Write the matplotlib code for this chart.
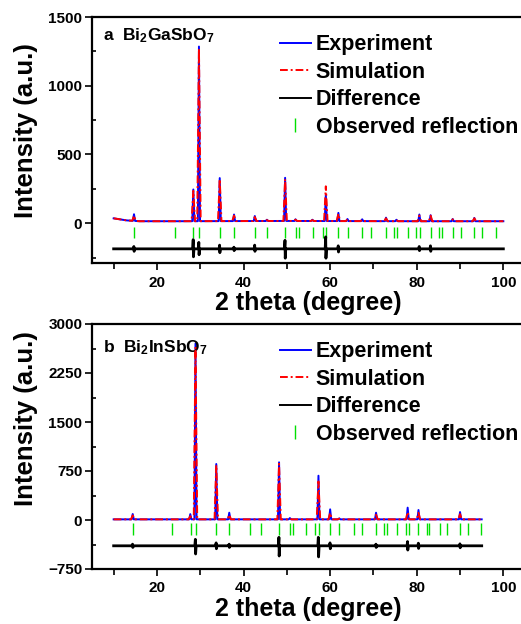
import numpy as np
import matplotlib
matplotlib.use("Agg")
import matplotlib.pyplot as plt
from matplotlib.lines import Line2D
from matplotlib.ticker import MultipleLocator

plt.rcParams['font.family'] = ['Liberation Sans', 'DejaVu Sans']
plt.rcParams['font.weight'] = 'bold'
plt.rcParams['mathtext.fontset'] = 'custom'
plt.rcParams['mathtext.rm'] = 'Liberation Sans:bold'
plt.rcParams['mathtext.bf'] = 'Liberation Sans:bold'
plt.rcParams['mathtext.it'] = 'Liberation Sans:bold'
plt.rcParams['mathtext.default'] = 'bf'

# ---------------- panel a: Bi2GaSbO7 ----------------
a_bg_x = [10, 11, 13, 16, 25, 50, 80, 100]
a_bg_y = [35, 30, 20, 14, 14, 16, 14, 14]
a_peak_pos = [14.7, 28.4, 29.7, 34.5, 37.8, 42.6, 45.4, 49.6, 52.0, 55.9,
              59.0, 61.9, 64.0, 67.4, 72.9, 75.3, 80.6, 83.2, 88.3, 93.3]
a_exp_h = [65, 245, 1285, 328, 63, 52, 25, 330, 28, 25,
           205, 75, 30, 28, 40, 25, 63, 58, 30, 38]
a_sim_h = [55, 235, 1270, 320, 55, 45, 22, 320, 25, 22,
           268, 68, 28, 25, 35, 22, 55, 55, 28, 35]
a_diff_base = -187
a_diff_pos = [14.7, 28.4, 29.7, 34.5, 37.8, 42.6, 49.6, 59.0, 61.9, 80.6, 83.2]
a_diff_hi = [-170, -120, -140, -160, -175, -160, -125, -100, -165, -170, -165]
a_diff_lo = [-205, -245, -230, -215, -200, -205, -255, -255, -210, -200, -205]
a_refl = [14.68, 24.24, 28.41, 29.72, 34.58, 37.82, 42.60, 45.38, 49.62, 52.02,
          52.86, 55.95, 58.26, 59.04, 61.89, 64.05, 67.44, 69.45, 72.84, 74.77,
          75.39, 78.09, 79.94, 80.64, 83.18, 85.03, 85.73, 88.27, 90.13, 93.21,
          95.14, 98.38]
a_refl_span = (-105, -25)

# ---------------- panel b: Bi2InSbO7 ----------------
b_bg_x = [10, 95]
b_bg_y = [10, 10]
b_peak_pos = [14.4, 27.7, 28.9, 33.7, 36.7, 48.2, 50.7, 57.3, 60.0, 62.1,
              70.6, 77.9, 80.4, 90.0]
b_exp_h = [92, 90, 2700, 857, 112, 883, 30, 678, 163, 25, 112, 189, 153, 122]
b_sim_h = [70, 60, 2650, 840, 80, 860, 25, 590, 110, 20, 80, 120, 110, 90]
b_diff_base = -395
b_diff_pos = [14.4, 28.9, 33.7, 36.7, 48.2, 57.3, 60.0, 70.6, 77.9, 80.4, 90.0]
b_diff_hi = [-370, -296, -350, -370, -265, -265, -350, -370, -330, -355, -365]
b_diff_lo = [-420, -520, -440, -420, -551, -565, -440, -420, -460, -435, -425]
b_refl = [14.45, 23.55, 27.79, 29.10, 33.73, 36.74, 41.52, 44.07, 48.24, 50.70,
          51.40, 54.33, 56.57, 57.34, 60.04, 62.12, 65.44, 67.37, 70.61, 72.46,
          73.15, 75.54, 77.47, 78.16, 80.40, 82.33, 82.87, 85.27, 87.04, 90.05,
          91.90, 94.83]
b_refl_span = (-235, -51)


def peak_curve(bg_x, bg_y, pos, hts, hw):
    """Piecewise-linear pattern: background plus triangular peaks."""
    pos = np.asarray(pos, float)
    xs = np.unique(np.concatenate([bg_x, pos - hw, pos, pos + hw]))
    xs = xs[(xs >= bg_x[0]) & (xs <= bg_x[-1])]
    ys = np.interp(xs, bg_x, bg_y)
    for p, h in zip(pos, hts):
        base = np.interp(p, bg_x, bg_y)
        ys = ys + np.clip(1 - np.abs(xs - p) / hw, 0, None) * (h - base)
    return xs, ys


def diff_curve(x0, x1, base, pos, hi, lo):
    xs = [x0]
    ys = [base]
    for p, h, l in zip(pos, hi, lo):
        xs += [p - 0.15, p - 0.03, p + 0.03, p + 0.15]
        ys += [base, h, l, base]
    xs.append(x1)
    ys.append(base)
    return xs, ys


fig = plt.figure(figsize=(5.21, 6.24), dpi=100)
W, H = 521, 624
ax1 = fig.add_axes([92 / W, 1 - 263 / H, 433 / W, 246 / H])
ax2 = fig.add_axes([92 / W, 1 - 569 / H, 433 / W, 245 / H])

blue = '#0000ff'
red = '#ff0000'
green = '#00e000'
dashdot = (0, (4, 1.5, 1, 1.5))

panels = [
    (ax1, a_bg_x, a_bg_y, a_peak_pos, a_exp_h, a_sim_h, a_diff_base, a_diff_pos,
     a_diff_hi, a_diff_lo, a_refl, a_refl_span, (-290, 1500), 500, 250,
     r'a  Bi$_{2}$GaSbO$_{7}$', 0.905, 0.537),
    (ax2, b_bg_x, b_bg_y, b_peak_pos, b_exp_h, b_sim_h, b_diff_base, b_diff_pos,
     b_diff_hi, b_diff_lo, b_refl, b_refl_span, (-750, 3000), 750, 375,
     r'b  Bi$_{2}$InSbO$_{7}$', 0.885, 0.612),
]

for (ax, bgx, bgy, ppos, eh, sh, dbase, dpos, dhi, dlo, refl, rspan, ylim,
     ymaj, ymin, title, ty, ylab_y) in panels:
    ex, ey = peak_curve(bgx, bgy, ppos, eh, 0.25)
    sx, sy = peak_curve(bgx, bgy, ppos, sh, 0.4)
    dx, dy = diff_curve(bgx[0], bgx[-1], dbase, dpos, dhi, dlo)
    ax.plot(ex, ey, color=blue, lw=1.4, zorder=3)
    ax.plot(sx, sy, color=red, lw=1.4, ls=dashdot, zorder=4)
    ax.plot(dx, dy, color='black', lw=2.0, zorder=3)
    ax.vlines(refl, rspan[0], rspan[1], color=green, lw=1.0, zorder=2)

    ax.set_xlim(5, 105)
    ax.set_ylim(*ylim)
    ax.xaxis.set_major_locator(MultipleLocator(20))
    ax.xaxis.set_minor_locator(MultipleLocator(10))
    ax.yaxis.set_major_locator(MultipleLocator(ymaj))
    ax.yaxis.set_minor_locator(MultipleLocator(ymin))
    ax.tick_params(which='major', direction='out', length=5, width=1.2,
                   labelsize=11, pad=2)
    ax.tick_params(axis='x', which='minor', direction='out', length=4, width=1.2)
    ax.tick_params(axis='y', which='minor', direction='in', length=3, width=1.2)
    ax.tick_params(axis='x', which='major', pad=4)
    for lab in ax.get_xticklabels() + ax.get_yticklabels():
        lab.set_fontweight('bold')
    for s in ('left', 'bottom', 'top'):
        ax.spines[s].set_linewidth(1.6)
    ax.spines['right'].set_visible(False)

    ax.set_xlabel('2 theta (degree)', fontsize=18, fontweight='bold')
    ax.set_ylabel('Intensity (a.u.)', fontsize=18.5, fontweight='bold')
    ax.xaxis.set_label_coords(0.5, -0.115)
    ax.yaxis.set_label_coords(-0.125, ylab_y)

    ax.text(0.025, ty, title, transform=ax.transAxes, fontsize=12.5,
            fontweight='bold', va='baseline', ha='left')

    handles = [
        Line2D([], [], color=blue, lw=1.4),
        Line2D([], [], color=red, lw=1.4, ls=dashdot),
        Line2D([], [], color='black', lw=1.4),
        Line2D([], [], color=green, marker='|', ls='None', markersize=10,
               markeredgewidth=1.0),
    ]
    labels = ['Experiment', 'Simulation', 'Difference', 'Observed reflection']
    ax.legend(handles, labels, loc='upper left', bbox_to_anchor=(0.434, 0.93),
              frameon=False, borderpad=0, borderaxespad=0,
              prop={'size': 15.5, 'weight': 'bold'}, handlelength=1.44,
              handletextpad=0.22, labelspacing=0.3)

fig.savefig('out.png', dpi=100)
